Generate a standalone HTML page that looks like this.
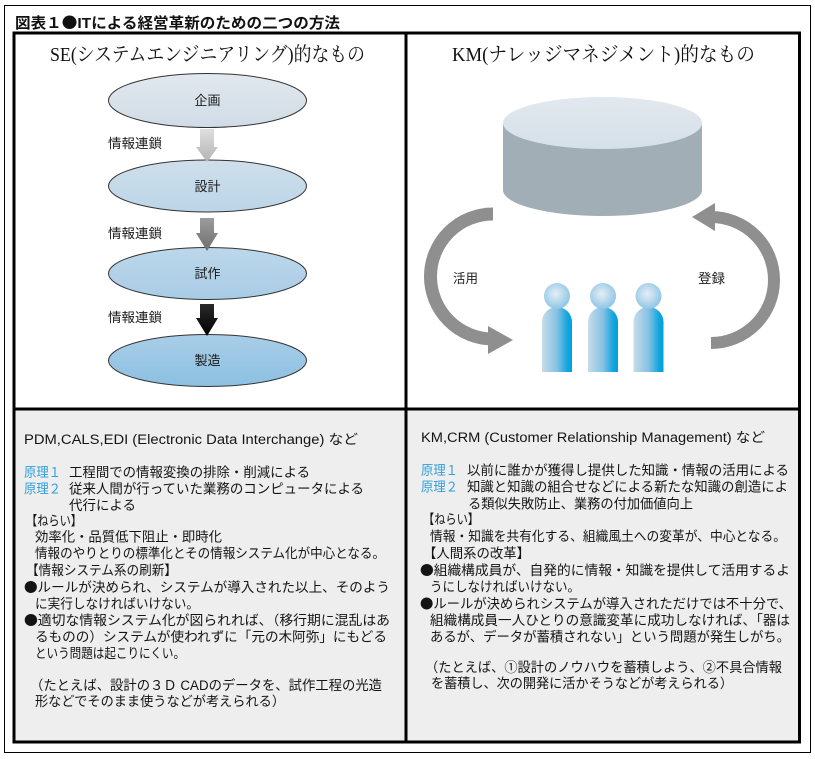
<!DOCTYPE html>
<html><head><meta charset="utf-8">
<style>
html,body{margin:0;padding:0;background:#fff;}
svg{display:block;}
.t{font-family:"Liberation Sans","Noto Sans CJK JP",sans-serif;font-size:13.4px;fill:#141414;}
.j{font-family:"Noto Sans CJK JP",sans-serif;}
.b{fill:#2f9fdc;}
.h{font-family:"Liberation Serif","Noto Serif CJK SC",serif;font-size:20px;fill:#111;}
.l{font-family:"Liberation Sans","Noto Sans CJK JP",sans-serif;font-size:13px;fill:#1a1a1a;}
</style></head><body>
<svg width="815" height="759" viewBox="0 0 815 759" xmlns="http://www.w3.org/2000/svg">
<defs>
<linearGradient id="e1" x1="0" y1="0" x2="0" y2="1"><stop offset="0" stop-color="#e2e8ee"/><stop offset="1" stop-color="#d0dce6"/></linearGradient>
<linearGradient id="e2" x1="0" y1="0" x2="0" y2="1"><stop offset="0" stop-color="#cfdfeb"/><stop offset="1" stop-color="#bcd5e7"/></linearGradient>
<linearGradient id="e3" x1="0" y1="0" x2="0" y2="1"><stop offset="0" stop-color="#bdd7ea"/><stop offset="1" stop-color="#a8cce6"/></linearGradient>
<linearGradient id="e4" x1="0" y1="0" x2="0" y2="1"><stop offset="0" stop-color="#a9cee8"/><stop offset="1" stop-color="#8cc0e1"/></linearGradient>
<linearGradient id="a1" x1="0" y1="0" x2="0" y2="1"><stop offset="0" stop-color="#dedede"/><stop offset="1" stop-color="#b4b4b4"/></linearGradient>
<linearGradient id="a2" x1="0" y1="0" x2="0" y2="1"><stop offset="0" stop-color="#9c9c9c"/><stop offset="1" stop-color="#6e6e6e"/></linearGradient>
<linearGradient id="a3" x1="0" y1="0" x2="0" y2="1"><stop offset="0" stop-color="#2a2a2a"/><stop offset="1" stop-color="#000"/></linearGradient>
<linearGradient id="ct" x1="0" y1="0" x2="0" y2="1"><stop offset="0" stop-color="#e2e8ee"/><stop offset="1" stop-color="#d6e0e8"/></linearGradient>
<linearGradient id="bd" x1="0" y1="0" x2="1" y2="0"><stop offset="0" stop-color="#c8dcea"/><stop offset="0.5" stop-color="#86c1e4"/><stop offset="0.85" stop-color="#12a5de"/><stop offset="1" stop-color="#00a0dc"/></linearGradient>
<radialGradient id="hd" cx="0.45" cy="0.42" r="0.6"><stop offset="0" stop-color="#e6eff5"/><stop offset="1" stop-color="#8cc4e6"/></radialGradient>
</defs>

<!-- frames -->
<rect x="4.5" y="5.5" width="806" height="747" fill="none" stroke="#000" stroke-width="1"/>
<rect x="14" y="409" width="785.5" height="333" fill="#eeeeee"/>
<rect x="14" y="33" width="785.5" height="709" fill="none" stroke="#000" stroke-width="3"/>
<line x1="406" y1="33" x2="406" y2="742" stroke="#000" stroke-width="3"/>
<line x1="14" y1="409" x2="799.5" y2="409" stroke="#000" stroke-width="3"/>

<!-- title -->
<text x="15" y="28" font-family="Liberation Sans, Noto Sans CJK JP, sans-serif" font-size="15" font-weight="bold" fill="#111" textLength="325" lengthAdjust="spacingAndGlyphs">図表１<tspan class="j">●</tspan>ITによる経営革新のための二つの方法</text>

<!-- headings -->
<text class="h" x="50" y="61" textLength="315" lengthAdjust="spacingAndGlyphs">SE(システムエンジニアリング)的なもの</text>
<text class="h" x="452" y="61" textLength="303" lengthAdjust="spacingAndGlyphs">KM(ナレッジマネジメント)的なもの</text>

<!-- left flow -->
<ellipse cx="207.5" cy="100.5" rx="99" ry="27" fill="url(#e1)" stroke="#333" stroke-width="1"/>
<ellipse cx="207.5" cy="186" rx="99" ry="26" fill="url(#e2)" stroke="#333" stroke-width="1"/>
<ellipse cx="207.5" cy="273.5" rx="99" ry="26" fill="url(#e3)" stroke="#333" stroke-width="1"/>
<ellipse cx="207.5" cy="360.5" rx="99" ry="26" fill="url(#e4)" stroke="#333" stroke-width="1"/>

<polygon points="200,129 214,129 214,147 218,147 207,162 196,147 200,147" fill="url(#a1)"/>
<polygon points="200,218 214,218 214,233 218,233 207,251 196,233 200,233" fill="url(#a2)"/>
<polygon points="200,304 214,304 214,318 218,318 207,336 196,318 200,318" fill="url(#a3)"/>

<text class="l" x="207.5" y="105" text-anchor="middle">企画</text>
<text class="l" x="207.5" y="191" text-anchor="middle">設計</text>
<text class="l" x="207.5" y="278" text-anchor="middle">試作</text>
<text class="l" x="207.5" y="365" text-anchor="middle">製造</text>

<text class="l" x="108" y="148" textLength="54" lengthAdjust="spacingAndGlyphs">情報連鎖</text>
<text class="l" x="108" y="238" textLength="54" lengthAdjust="spacingAndGlyphs">情報連鎖</text>
<text class="l" x="108" y="322" textLength="54" lengthAdjust="spacingAndGlyphs">情報連鎖</text>

<!-- right: cylinder -->
<rect x="503" y="123" width="199" height="67" fill="#a1aeb6"/>
<ellipse cx="602.5" cy="190" rx="99.5" ry="26" fill="#a1aeb6"/>
<ellipse cx="602.5" cy="123" rx="99.5" ry="26" fill="url(#ct)"/>

<!-- circular arrows -->
<path d="M493 214 A62.5 62.5 0 0 0 493 339" fill="none" stroke="#8f8f8f" stroke-width="13"/>
<polygon points="488,326 513,340 488,354" fill="#8f8f8f"/>
<path d="M711 343 A63 63 0 0 0 711 217 L714 217" fill="none" stroke="#8f8f8f" stroke-width="12"/>
<polygon points="715,203 692,217 715,231" fill="#8f8f8f"/>

<text class="l" x="453" y="283" textLength="25" lengthAdjust="spacingAndGlyphs">活用</text>
<text class="l" x="698" y="283" textLength="27" lengthAdjust="spacingAndGlyphs">登録</text>

<!-- people -->
<path d="M542 372 V322 A15 15 0 0 1 572 322 V372 Z" fill="url(#bd)"/>
<path d="M588 372 V322 A15 15 0 0 1 618 322 V372 Z" fill="url(#bd)"/>
<path d="M633.5 372 V322 A15 15 0 0 1 663.5 322 V372 Z" fill="url(#bd)"/>
<circle cx="557" cy="296" r="13" fill="url(#hd)"/>
<circle cx="603" cy="296" r="13" fill="url(#hd)"/>
<circle cx="648.5" cy="296" r="13" fill="url(#hd)"/>

<!-- left bottom text -->
<text class="t" x="24" y="444" textLength="334" lengthAdjust="spacingAndGlyphs">PDM,CALS,EDI (Electronic Data Interchange) など</text>
<text class="t b" x="24" y="477" textLength="37" lengthAdjust="spacingAndGlyphs">原理１</text>
<text class="t" x="69" y="477" textLength="241" lengthAdjust="spacingAndGlyphs">工程間での情報変換の排除・削減による</text>
<text class="t b" x="24" y="493.5" textLength="37" lengthAdjust="spacingAndGlyphs">原理２</text>
<text class="t" x="69" y="493.5" textLength="295" lengthAdjust="spacingAndGlyphs">従来人間が行っていた業務のコンピュータによる</text>
<text class="t" x="69" y="510" textLength="67" lengthAdjust="spacingAndGlyphs">代行による</text>
<text class="t" x="26" y="525.5" textLength="56" lengthAdjust="spacingAndGlyphs">【ねらい】</text>
<text class="t" x="35" y="541.5" textLength="187" lengthAdjust="spacingAndGlyphs">効率化・品質低下阻止・即時化</text>
<text class="t" x="35" y="558" textLength="350" lengthAdjust="spacingAndGlyphs">情報のやりとりの標準化とその情報システム化が中心となる。</text>
<text class="t" x="26" y="575" textLength="151" lengthAdjust="spacingAndGlyphs">【情報システム系の刷新】</text>
<text class="t" x="24" y="592" textLength="366" lengthAdjust="spacingAndGlyphs"><tspan class="j">●</tspan>ルールが決められ、システムが導入された以上、そのよう</text>
<text class="t" x="35" y="608.5" textLength="164" lengthAdjust="spacingAndGlyphs">に実行しなければいけない。</text>
<text class="t" x="24" y="625" textLength="366" lengthAdjust="spacingAndGlyphs"><tspan class="j">●</tspan>適切な情報システム化が図られれば、（移行期に混乱はあ</text>
<text class="t" x="35" y="641.5" textLength="352" lengthAdjust="spacingAndGlyphs">るものの）システムが使われずに「元の木阿弥」にもどる</text>
<text class="t" x="35" y="658" textLength="150" lengthAdjust="spacingAndGlyphs">という問題は起こりにくい。</text>
<text class="t" x="30" y="690" textLength="352" lengthAdjust="spacingAndGlyphs">（たとえば、設計の３Ｄ CADのデータを、試作工程の光造</text>
<text class="t" x="35" y="706" textLength="250" lengthAdjust="spacingAndGlyphs">形などでそのまま使うなどが考えられる）</text>

<!-- right bottom text -->
<text class="t" x="421" y="442" textLength="344" lengthAdjust="spacingAndGlyphs">KM,CRM (Customer Relationship Management) など</text>
<text class="t b" x="421" y="475" textLength="37" lengthAdjust="spacingAndGlyphs">原理１</text>
<text class="t" x="467" y="475" textLength="322" lengthAdjust="spacingAndGlyphs">以前に誰かが獲得し提供した知識・情報の活用による</text>
<text class="t b" x="421" y="491.7" textLength="37" lengthAdjust="spacingAndGlyphs">原理２</text>
<text class="t" x="467" y="491.7" textLength="321" lengthAdjust="spacingAndGlyphs">知識と知識の組合せなどによる新たな知識の創造によ</text>
<text class="t" x="468" y="508.3" textLength="225" lengthAdjust="spacingAndGlyphs">る類似失敗防止、業務の付加価値向上</text>
<text class="t" x="423" y="524" textLength="56" lengthAdjust="spacingAndGlyphs">【ねらい】</text>
<text class="t" x="430" y="541" textLength="356" lengthAdjust="spacingAndGlyphs">情報・知識を共有化する、組織風土への変革が、中心となる。</text>
<text class="t" x="423" y="558" textLength="107" lengthAdjust="spacingAndGlyphs">【人間系の改革】</text>
<text class="t" x="420" y="575" textLength="370" lengthAdjust="spacingAndGlyphs"><tspan class="j">●</tspan>組織構成員が、自発的に情報・知識を提供して活用するよ</text>
<text class="t" x="430" y="591.7" textLength="150" lengthAdjust="spacingAndGlyphs">うにしなければいけない。</text>
<text class="t" x="420" y="608.3" textLength="372" lengthAdjust="spacingAndGlyphs"><tspan class="j">●</tspan>ルールが決められシステムが導入されただけでは不十分で、</text>
<text class="t" x="430" y="625" textLength="360" lengthAdjust="spacingAndGlyphs">組織構成員一人ひとりの意識変革に成功しなければ、「器は</text>
<text class="t" x="430" y="641.7" textLength="360" lengthAdjust="spacingAndGlyphs">あるが、データが蓄積されない」という問題が発生しがち。</text>
<text class="t" x="425" y="672" textLength="357" lengthAdjust="spacingAndGlyphs">（たとえば、①設計のノウハウを蓄積しよう、②不具合情報</text>
<text class="t" x="431" y="688" textLength="302" lengthAdjust="spacingAndGlyphs">を蓄積し、次の開発に活かそうなどが考えられる）</text>
</svg>
</body></html>
